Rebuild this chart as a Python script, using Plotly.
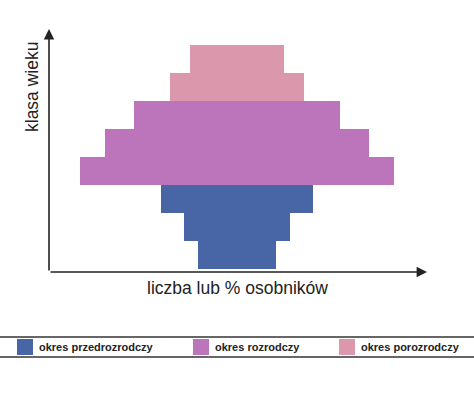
import plotly.graph_objects as go

# Data
age_classes = [1, 2, 3, 4, 5, 6, 7, 8]
widths = [78, 106, 152, 314, 264, 206, 134, 94]  # individuals (arbitrary units)
periods = ["okres przedrozrodczy", "okres przedrozrodczy", "okres przedrozrodczy",
           "okres rozrodczy", "okres rozrodczy", "okres rozrodczy",
           "okres porozrodczy", "okres porozrodczy"]
legend_names = ["okres przedrozrodczy", "okres rozrodczy", "okres porozrodczy"]
colors = {"okres przedrozrodczy": "#4865A6",
          "okres rozrodczy": "#BC74BA",
          "okres porozrodczy": "#DB98AC"}

W, H = 474, 394
L, R, T, B = 49, 47, 29, 122
PW, PH = W - L - R, H - T - B

def px(x):
    return (x - L) / PW

def py(y):
    return (H - B - y) / PH

fig = go.Figure()
for name in legend_names:
    ys = [a for a, p in zip(age_classes, periods) if p == name]
    ws = [w for w, p in zip(widths, periods) if p == name]
    fig.add_trace(go.Bar(
        y=ys, x=ws, base=[-w / 2 for w in ws], orientation="h",
        width=1.0, marker=dict(color=colors[name], line=dict(width=0)),
        name=name, showlegend=False, hoverinfo="skip"))

shapes = []
annotations = []
# Axis arrows
annotations.append(dict(x=0, y=1, xref="paper", yref="paper", ax=0, ay=PH,
                        axref="pixel", ayref="pixel", showarrow=True, arrowhead=2,
                        arrowsize=1.3, arrowwidth=1.6, arrowcolor="#222", text=""))
annotations.append(dict(x=1, y=0, xref="paper", yref="paper", ax=-PW, ay=0,
                        axref="pixel", ayref="pixel", showarrow=True, arrowhead=2,
                        arrowsize=1.3, arrowwidth=1.6, arrowcolor="#222", text=""))
# Axis titles
annotations.append(dict(x=px(237), y=py(288), xref="paper", yref="paper",
                        text="liczba lub % osobników", showarrow=False,
                        font=dict(size=17.5, color="#222", family="Liberation Sans, Arial"),
                        xanchor="center", yanchor="middle"))
annotations.append(dict(x=px(32), y=py(87), xref="paper", yref="paper",
                        text="klasa wieku", showarrow=False, textangle=-90,
                        font=dict(size=17.5, color="#222", family="Liberation Sans, Arial"),
                        xanchor="center", yanchor="middle"))
# Legend frame lines
for yl in (337, 357):
    shapes.append(dict(type="line", xref="paper", yref="paper", x0=px(0), x1=px(W),
                       y0=py(yl), y1=py(yl), line=dict(color="#666", width=2)))
# Legend items
sq_x = [17, 193, 339]
for name, sx in zip(legend_names, sq_x):
    shapes.append(dict(type="rect", xref="paper", yref="paper", x0=px(sx), x1=px(sx + 16),
                       y0=py(355), y1=py(339), fillcolor=colors[name], line=dict(width=0)))
    annotations.append(dict(x=px(sx + 20), y=py(347), xref="paper", yref="paper",
                            text="<b>" + name + "</b>", showarrow=False, xanchor="left",
                            yanchor="middle",
                            font=dict(size=11, color="#222", family="Liberation Sans, Arial")))

fig.update_layout(
    width=W, height=H, margin=dict(l=L, r=R, t=T, b=B),
    paper_bgcolor="white", plot_bgcolor="white",
    barmode="overlay", bargap=0,
    xaxis=dict(range=[-188, 190], visible=False, fixedrange=True),
    yaxis=dict(range=[0.393, 9.07], visible=False, fixedrange=True),
    shapes=shapes, annotations=annotations, showlegend=False,
)
fig.write_html("out.html")
